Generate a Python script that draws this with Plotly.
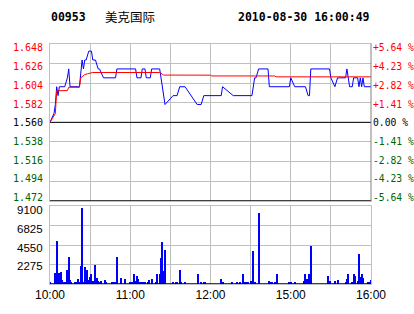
import plotly.graph_objects as go

title_code = "00953"
title_name = "美克国际"
title_time = "2010-08-30 16:00:49"

prev_close = 1.560

price_times = ["10:00", "10:03", "10:04", "10:05", "10:06", "10:07", "10:11", "10:13", "10:14", "10:15",
               "10:22", "10:23", "10:24", "10:25", "10:26", "10:27", "10:29", "10:31", "10:32", "10:34",
               "10:36", "10:37", "10:40", "10:49", "10:50", "11:04", "11:05", "11:08", "11:09", "11:11",
               "11:12", "11:15", "11:16", "11:22", "11:24", "11:26", "11:32", "11:35", "11:37", "11:41",
               "11:50", "11:53", "11:55", "12:08", "12:09", "12:17", "14:31", "14:32", "14:33", "14:34",
               "14:36", "14:43", "14:44", "14:59", "15:00", "15:03", "15:11", "15:13", "15:14", "15:15",
               "15:29", "15:30", "15:33", "15:35", "15:41", "15:42", "15:43", "15:44", "15:46", "15:47",
               "15:50", "15:51", "15:52", "15:53", "15:54", "15:55", "16:00"]
price_values = [1.56, 1.57, 1.58, 1.60, 1.59, 1.60, 1.60, 1.61, 1.62, 1.60,
                1.60, 1.62, 1.63, 1.62, 1.63, 1.63, 1.64, 1.64, 1.63, 1.63,
                1.62, 1.62, 1.61, 1.61, 1.62, 1.62, 1.61, 1.61, 1.62, 1.62,
                1.61, 1.61, 1.62, 1.62, 1.60, 1.58, 1.59, 1.59, 1.60, 1.60,
                1.58, 1.58, 1.59, 1.59, 1.60, 1.59, 1.59, 1.60, 1.61, 1.61,
                1.62, 1.62, 1.60, 1.60, 1.61, 1.60, 1.60, 1.59, 1.59, 1.62,
                1.62, 1.61, 1.60, 1.61, 1.61, 1.62, 1.61, 1.60, 1.60, 1.61,
                1.61, 1.60, 1.61, 1.60, 1.61, 1.60, 1.60]

avg_times = ["10:00", "10:04", "10:05", "10:13", "10:14", "10:22", "10:23", "10:24", "10:26", "10:28",
             "10:32", "11:22", "11:25", "12:00", "12:01", "14:48", "14:49", "16:00"]
avg_values = [1.560, 1.570, 1.5955, 1.5957, 1.5994, 1.5994, 1.6100, 1.6115, 1.6137, 1.6145,
              1.6160, 1.6160, 1.6131, 1.6130, 1.6121, 1.6121, 1.6111, 1.6111]

vol_times = ["10:00", "10:04", "10:05", "10:07", "10:08", "10:09", "10:10", "10:11", "10:13", "10:14",
             "10:15", "10:16", "10:19", "10:20", "10:21", "10:22", "10:23", "10:24", "10:25", "10:26",
             "10:27", "10:28", "10:29", "10:30", "10:31", "10:32", "10:33", "10:34", "10:35", "10:36",
             "10:37", "10:38", "10:41", "10:42", "10:46", "10:47", "10:48", "10:49", "10:50", "10:53",
             "10:56", "11:00", "11:01", "11:02", "11:03", "11:04", "11:05", "11:06", "11:07", "11:09",
             "11:10", "11:11", "11:13", "11:14", "11:16", "11:19", "11:20", "11:22", "11:23", "11:24",
             "11:25", "11:26", "11:32", "11:34", "11:35", "11:37", "11:38", "11:41", "11:51", "11:53",
             "11:55", "11:56", "12:08", "12:09", "12:16", "12:20", "12:22", "12:24", "12:25", "12:26",
             "12:27", "12:28", "14:30", "14:31", "14:32", "14:33", "14:36", "14:44", "14:45", "14:46",
             "14:48", "14:50", "14:59", "15:00", "15:03", "15:10", "15:11", "15:12", "15:13", "15:14",
             "15:15", "15:28", "15:29", "15:33", "15:35", "15:41", "15:42", "15:43", "15:46", "15:47",
             "15:48", "15:50", "15:51", "15:52", "15:53", "15:54", "15:58", "15:59", "16:00"]
vol_values = [230, 1260, 4950, 1260, 1370, 460, 230, 230, 1600, 3100,
              460, 230, 230, 230, 570, 230, 2060, 8815, 230, 1950,
              570, 1600, 460, 800, 1145, 350, 230, 2175, 690, 350,
              230, 350, 460, 230, 230, 230, 230, 230, 3100, 690,
              570, 230, 230, 230, 1145, 350, 915, 570, 230, 230,
              230, 230, 230, 460, 570, 230, 1145, 1145, 2975, 4920,
              1490, 4000, 230, 230, 230, 1600, 230, 230, 1145, 230,
              230, 230, 570, 230, 230, 230, 230, 1145, 230, 230,
              230, 230, 350, 350, 3780, 230, 8250, 350, 230, 230,
              230, 1145, 230, 230, 230, 350, 1145, 570, 230, 1145,
              4465, 915, 350, 350, 460, 230, 570, 1145, 230, 1145,
              915, 350, 3435, 800, 1145, 690, 230, 230, 460]

price_ticks = [1.648, 1.626, 1.604, 1.582, 1.560, 1.538, 1.516, 1.494, 1.472]
price_tick_labels = ["1.648", "1.626", "1.604", "1.582", "1.560", "1.538", "1.516", "1.494", "1.472"]
pct_tick_labels = ["+5.64 %", "+4.23 %", "+2.82 %", "+1.41 %", "0.00 %",
                   "-1.41 %", "-2.82 %", "-4.23 %", "-5.64 %"]
vol_ticks = [9100, 6825, 4550, 2275]
vol_tick_labels = ["9100", "6825", "4550", "2275"]
grid_times = ["10:00", "10:30", "11:00", "11:30", "12:00", "12:30", "15:00", "15:30", "16:00"]
time_tick_labels = ["10:00", "11:00", "12:00", "15:00", "16:00"]


def tmin(s):
    h, m = map(int, s.split(":"))
    if h < 13:
        return (h - 10) * 60 + m
    return 150 + (h - 14) * 60 + m - 30


RED = "#FF0000"
GREEN = "#006400"
GRID = "#C0C0C0"

# plot-area pixel geometry (figure 414 x 314)
MT, MB = 44, 26
PH = 314 - MT - MB


def py(pix):
    """pixel row from top -> paper y"""
    return (314 - MB - pix) / PH


def level_color(v):
    if v > prev_close + 1e-9:
        return RED
    if v < prev_close - 1e-9:
        return GREEN
    return "#000000"


fig = go.Figure()
fig.add_trace(go.Scatter(x=[tmin(t) for t in price_times], y=price_values, mode="lines",
                         line=dict(color="#0000FF", width=1), xaxis="x", yaxis="y",
                         hoverinfo="skip"))
fig.add_trace(go.Scatter(x=[tmin(t) for t in avg_times], y=avg_values, mode="lines",
                         line=dict(color="#FF0000", width=1), xaxis="x", yaxis="y",
                         hoverinfo="skip"))
fig.add_trace(go.Bar(x=[tmin(t) for t in vol_times], y=vol_values, width=0.75,
                     marker=dict(color="#0000FF", line=dict(width=0)), xaxis="x2", yaxis="y2",
                     hoverinfo="skip"))

xr = [tmin(grid_times[0]), tmin(grid_times[-1])]
grid_vals = [tmin(t) for t in grid_times]
grid_text = [t if t in time_tick_labels else "" for t in grid_times]

axis_common = dict(showgrid=True, gridcolor=GRID, gridwidth=1, zeroline=False,
                   showline=True, linecolor=GRID, linewidth=1, mirror=True, fixedrange=True)

fig.update_layout(
    width=414, height=314,
    margin=dict(l=50, r=43, t=MT, b=MB),
    paper_bgcolor="white", plot_bgcolor="white",
    showlegend=False, bargap=0,
    xaxis=dict(domain=[0, 1], range=xr, tickmode="array", tickvals=grid_vals,
               showticklabels=False, anchor="y", **axis_common),
    yaxis=dict(domain=[py(203.3), 1], range=[price_ticks[-1], price_ticks[0]], tickmode="array",
               tickvals=price_ticks, showticklabels=False, anchor="x", **axis_common),
    xaxis2=dict(domain=[0, 1], range=xr, tickmode="array", tickvals=grid_vals, ticktext=grid_text,
                showticklabels=True, ticks="", anchor="y2",
                tickfont=dict(family="Liberation Sans", size=12, color="#000000"), **axis_common),
    yaxis2=dict(domain=[0, py(209)], range=[0, vol_ticks[0]], tickmode="array",
                tickvals=vol_ticks, showticklabels=False, anchor="x2", **axis_common),
)

shapes = [
    dict(type="line", xref="x", yref="y", x0=xr[0], x1=xr[1], y0=prev_close, y1=prev_close,
         line=dict(color="#000000", width=1), layer="between"),
    dict(type="line", xref="x", yref="y", x0=xr[0], x1=xr[1], y0=price_ticks[-1], y1=price_ticks[-1],
         line=dict(color="#000000", width=1.5), layer="between"),
    dict(type="line", xref="x2", yref="y2", x0=xr[0], x1=xr[1], y0=0, y1=0,
         line=dict(color="#000000", width=1.5), layer="above"),
    dict(type="line", xref="x", yref="y", x0=xr[1], x1=xr[1], y0=price_ticks[-1], y1=price_ticks[0],
         line=dict(color="#808080", width=1), layer="above"),
]
fig.update_layout(shapes=shapes)

ann = []
mono = "DejaVu Sans Mono"
for i, (v, lab, pct) in enumerate(zip(price_ticks, price_tick_labels, pct_tick_labels)):
    c = level_color(v)
    yp = py(48 + i * 19)
    ann.append(dict(xref="paper", yref="paper", x=0, y=yp, xanchor="right", yanchor="middle",
                    xshift=-5, text=lab, showarrow=False,
                    font=dict(family=mono, size=10, color=c)))
    ann.append(dict(xref="paper", yref="paper", x=1, y=yp, xanchor="left", yanchor="middle",
                    xshift=0, text=pct, showarrow=False,
                    font=dict(family=mono, size=9.7, color=c)))
for i, (v, lab) in enumerate(zip(vol_ticks, vol_tick_labels)):
    ann.append(dict(xref="paper", yref="paper", x=0, y=py(213 + i * 19), xanchor="right",
                    yanchor="middle", xshift=-5, text=lab, showarrow=False,
                    font=dict(family="Liberation Sans", size=11.5, color="#000000")))

ann.append(dict(xref="paper", yref="paper", x=0, y=py(17), xanchor="left", yanchor="middle",
                xshift=-1, text="<b>" + title_code + "</b>", showarrow=False,
                font=dict(family=mono, size=11.5, color="#000000")))
ann.append(dict(xref="paper", yref="paper", x=0, y=py(16), xanchor="left", yanchor="middle",
                xshift=53, text=title_name, showarrow=False,
                font=dict(family="Noto Sans CJK SC", size=12.5, color="#000000")))
ann.append(dict(xref="paper", yref="paper", x=1, y=py(17), xanchor="right", yanchor="middle",
                xshift=1, text="<b>" + title_time + "</b>", showarrow=False,
                font=dict(family=mono, size=11.5, color="#000000")))
fig.update_layout(annotations=ann)

fig.write_html("out.html", config={"displayModeBar": False})
